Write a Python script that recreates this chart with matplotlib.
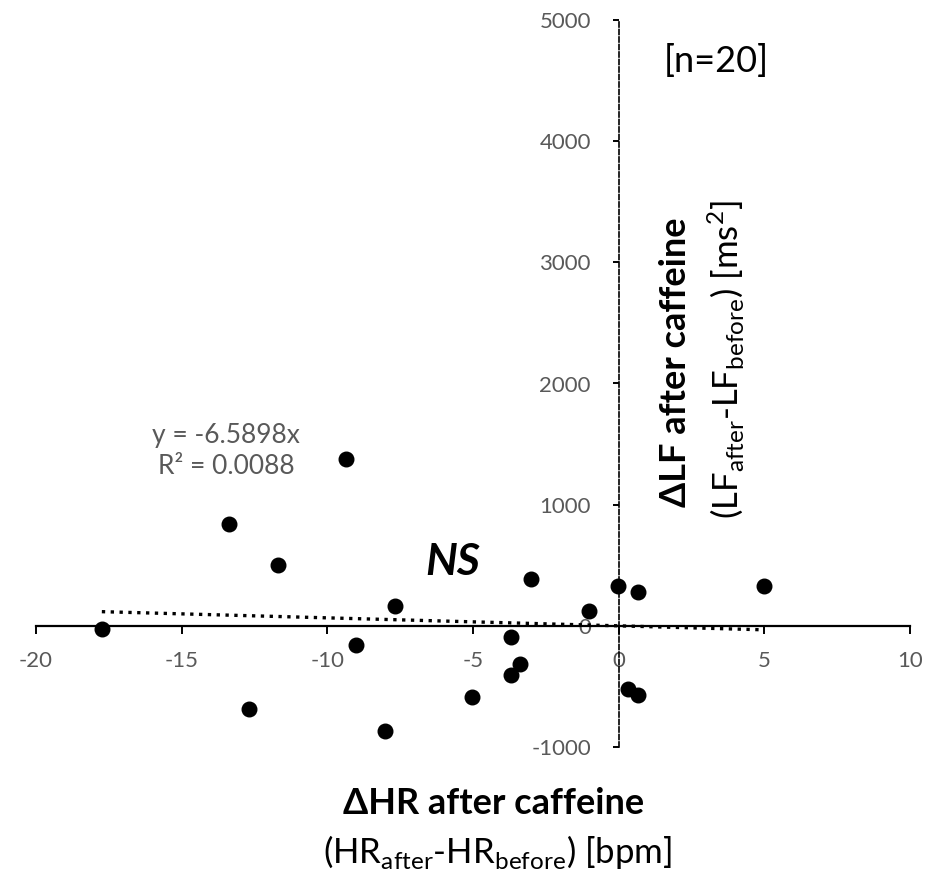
import numpy as np
import matplotlib
matplotlib.use("Agg")
import matplotlib.pyplot as plt

plt.rcParams['font.family'] = ['Lato', 'DejaVu Sans']
plt.rcParams['mathtext.fontset'] = 'custom'
plt.rcParams['mathtext.rm'] = 'Lato'
plt.rcParams['axes.unicode_minus'] = False

# delta HR (bpm) vs delta LF (ms^2)
dhr = [-17.74, -13.37, -12.68, -11.69, -9.36, -9.01, -7.67, -8.02, -5.04, -3.70,
       -3.39, -3.70, -3.01, -1.02, -0.02, 0.32, 0.66, 0.66, 4.99]
dlf = [-25, 843, -686, 504, 1380, -157, 165, -868, -587, -91,
       -314, -405, 388, 124, 331, -521, 281, -570, 331]

slope = -6.5898
x_ticks = [-20, -15, -10, -5, 0, 5, 10]
y_ticks = [-1000, 0, 1000, 2000, 3000, 4000, 5000]
grey = '#595959'

W, H = 936, 877
fig = plt.figure(figsize=(W / 100, H / 100), dpi=100)
ax = fig.add_axes([36 / W, 1 - 747 / H, 874 / W, 727 / H])

ax.scatter(dhr, dlf, s=110, color='black', zorder=3)

# linear trend through origin
xs = np.array([min(dhr), max(dhr)])
ax.plot(xs, slope * xs, color='black', linestyle=':', lw=2.4, zorder=2)

ax.set_xlim(-20, 10)
ax.set_ylim(-1000, 5000)
ax.set_xticks(x_ticks)
ax.set_yticks(y_ticks)

ax.spines['left'].set_position(('data', 0))
ax.spines['bottom'].set_position(('data', 0))
ax.spines['right'].set_visible(False)
ax.spines['top'].set_visible(False)
ax.spines['left'].set_linestyle((0, (3, 1.5)))
ax.spines['left'].set_linewidth(1.2)
ax.spines['bottom'].set_linewidth(1.6)

ax.tick_params(axis='x', direction='out', length=6, width=1.4, pad=12,
               labelsize=16, labelcolor=grey)
ax.tick_params(axis='y', direction='out', length=4, width=1.4, pad=16,
               labelsize=16, labelcolor=grey)

def fx(px):
    return px / W

def fy(py):
    return 1 - py / H

fig.text(fx(226), fy(436), 'y = -6.5898x', color=grey, fontsize=19,
         ha='center', va='center')
fig.text(fx(226), fy(466), 'R² = 0.0088', color=grey, fontsize=19,
         ha='center', va='center')

fig.text(fx(453), fy(562), 'NS', fontsize=32, fontweight='bold', style='italic',
         ha='center', va='center')
fig.text(fx(716), fy(61), '[n=20]', fontsize=26, ha='center', va='center')

# y label (two lines, rotated)
fig.text(fx(676), fy(362), 'ΔLF after caffeine', fontsize=26, fontweight='bold',
         rotation=90, ha='center', va='center')
fig.text(fx(726), fy(360),
         r'(LF$_{\mathregular{after}}$-LF$_{\mathregular{before}}$) [ms$^{\mathregular{2}}$]',
         fontsize=25, rotation=90, ha='center', va='center')

# x label
fig.text(fx(494), fy(803), 'ΔHR after caffeine', fontsize=26, fontweight='bold',
         ha='center', va='center')
fig.text(fx(497), fy(852),
         r'(HR$_{\mathregular{after}}$-HR$_{\mathregular{before}}$) [bpm]',
         fontsize=25, ha='center', va='center')

fig.savefig('out.png', dpi=100)
